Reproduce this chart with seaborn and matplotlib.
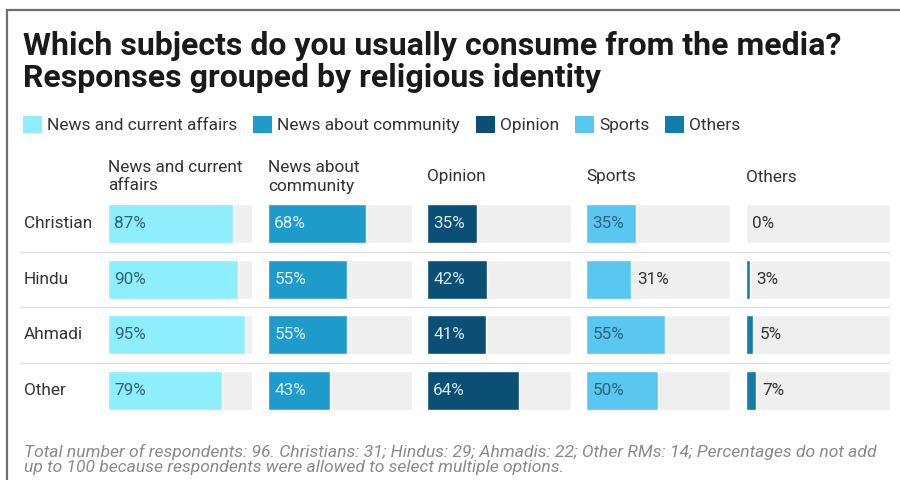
import matplotlib
matplotlib.use("Agg")
import matplotlib.pyplot as plt
from matplotlib.patches import Patch, Rectangle
import seaborn as sns

sns.set_theme(style="white")
plt.rcParams["font.family"] = ["Roboto", "DejaVu Sans"]

# data
religions = ["Christian", "Hindu", "Ahmadi", "Other"]
subjects = ["News and current affairs", "News about community", "Opinion", "Sports", "Others"]
headers = ["News and current\naffairs", "News about\ncommunity", "Opinion", "Sports", "Others"]
news_current = [87, 90, 95, 79]
news_community = [68, 55, 55, 43]
opinion = [35, 42, 41, 64]
sports = [35, 31, 55, 50]
others = [0, 3, 5, 7]
series = [news_current, news_community, opinion, sports, others]

colors = ["#8eeefb", "#1f9bcb", "#0c4f75", "#5ac7f1", "#137ca8"]
inside_text = ["#2f6676", "#dff3fb", "#d7ebf5", "#2a6580", "#dff3fb"]
bg_color = "#efefef"
text_dark = "#333333"

W, H = 900, 480
fig = plt.figure(figsize=(9, 4.8), dpi=100)

# frame around the graphic (top and left edges visible)
fig.add_artist(Rectangle((7 / W, -0.2), 1.2, 1.2 - 10 / H, transform=fig.transFigure,
                         fill=False, edgecolor="#6e6e6e", linewidth=1.6))

fig.text(23 / W, 1 - 31 / H,
         "Which subjects do you usually consume from the media?\nResponses grouped by religious identity",
         ha="left", va="top", fontsize=23, fontweight="bold", color="#1a1a1a", linespacing=1.08)

handles = [Patch(facecolor=c, edgecolor="none") for c in colors]
fig.legend(handles, subjects, loc="upper left", bbox_to_anchor=(23 / W, 1 - 116 / H),
           ncol=5, frameon=False, fontsize=12.5, handlelength=1.1, handleheight=1.1,
           handletextpad=0.3, columnspacing=0.9, borderpad=0, borderaxespad=0,
           labelcolor=text_dark)

top_px, bot_px = 196, 418
ax_bottom = 1 - bot_px / H
ax_height = (bot_px - top_px) / H

# background axis: row separators and row labels
ax_bg = fig.add_axes([20 / W, ax_bottom, 870 / W, ax_height])
ax_bg.set_ylim(len(religions) - 0.5, -0.5)
ax_bg.set_xlim(0, 1)
for k in range(len(religions) - 1):
    ax_bg.axhline(k + 0.5, color="#e2e2e2", linewidth=1.0)
for i, r in enumerate(religions):
    ax_bg.text(4 / 870, i, r, transform=ax_bg.get_yaxis_transform(), ha="left", va="center",
               fontsize=12.4, color=text_dark)
ax_bg.set_axis_off()

col_left = [108, 268, 427, 586, 746]
col_width = 144
for j, vals in enumerate(series):
    ax = fig.add_axes([col_left[j] / W, ax_bottom, col_width / W, ax_height])
    sns.barplot(x=[100] * len(religions), y=religions, orient="h", color=bg_color,
                width=0.7, ax=ax, saturation=1)
    sns.barplot(x=vals, y=religions, orient="h", color=colors[j],
                width=0.7, ax=ax, saturation=1)
    ax.set_xlim(0, 100)
    ax.set_ylim(len(religions) - 0.5, -0.5)
    for i, v in enumerate(vals):
        if v >= 33:
            ax.annotate(f"{v}%", xy=(0, i), xytext=(4.5, 0), textcoords="offset points",
                        ha="left", va="center", fontsize=12.3, color=inside_text[j])
        else:
            ax.annotate(f"{v}%", xy=(v, i), xytext=(4.5, 0), textcoords="offset points",
                        ha="left", va="center", fontsize=12.3, color=text_dark)
    ax.text(0, 1 + 19 / (bot_px - top_px), headers[j], transform=ax.transAxes,
            ha="left", va="center", fontsize=12.4, color=text_dark, linespacing=1.25)
    ax.set_axis_off()

fig.text(24 / W, 1 - 459 / H,
         "Total number of respondents: 96. Christians: 31; Hindus: 29; Ahmadis: 22; Other RMs: 14; "
         "Percentages do not add\nup to 100 because respondents were allowed to select multiple options.",
         ha="left", va="center", fontsize=12.6, fontstyle="italic", color="#8a8a8a", linespacing=1.0)

fig.savefig("out.png", dpi=100, facecolor="white")
